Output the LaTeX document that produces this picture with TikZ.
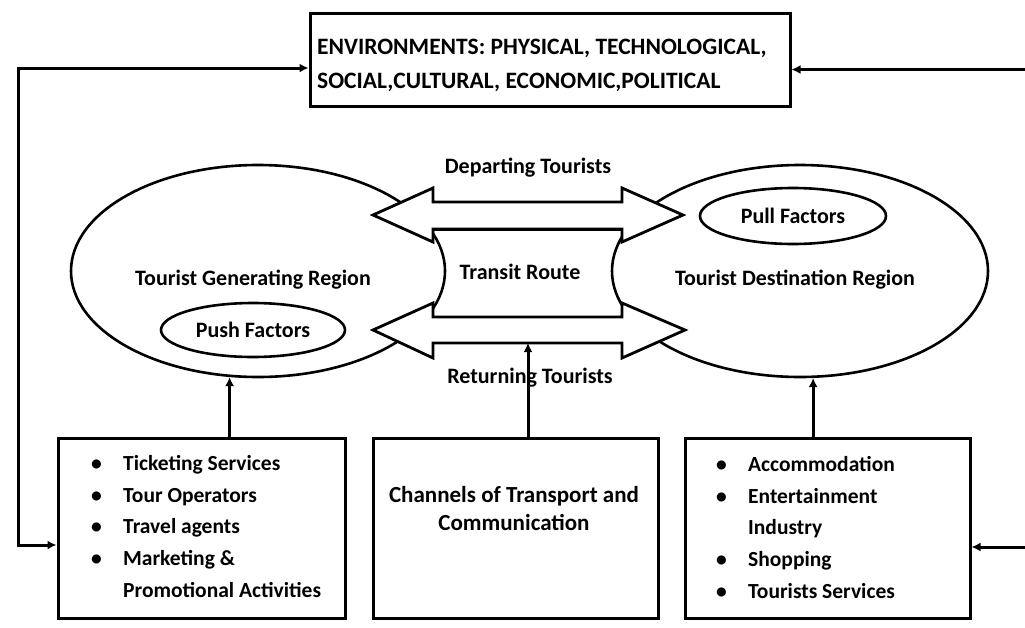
\documentclass[tikz,border=0pt]{standalone}
\usepackage{fontspec}
\setmainfont{Carlito}
\usetikzlibrary{shapes.geometric,arrows.meta}
\newcommand\bul{\makebox[32pt][l]{\textbullet}}
\newcommand\bulind{\hspace*{32pt}}
\begin{document}
\begin{tikzpicture}[x=1pt,y=-1pt,
 txt/.style={font=\bfseries\fontsize{22}{26}\selectfont, inner sep=0pt},
 listtxt/.style={font=\bfseries\fontsize{21.5}{31.75}\selectfont, inner sep=0pt, align=left, anchor=west},
 region/.style={draw, ellipse, line width=2.6pt, inner sep=0pt},
 factor/.style={draw, ellipse, line width=2.6pt, inner sep=0pt, font=\bfseries\fontsize{22}{26}\selectfont},
 box/.style={draw, line width=3pt, inner sep=0pt},
 conn/.style={line width=3pt, -{Latex[length=9pt,width=9pt]}},
 both/.style={line width=3pt, {Latex[length=9pt,width=9pt]}-{Latex[length=9pt,width=9pt]}},
 flow/.style={draw, fill=white, line width=2.8pt, line join=miter}
]
\useasboundingbox (0,0) rectangle (1025,627);
\clip (0,0) rectangle (1025,627);
\fill[white] (0,0) rectangle (1025,627);

% transit route box (top and bottom edges)
\draw[line width=2.8pt] (430,230) -- (627,230);
\draw[line width=2.8pt] (427,317) -- (631,317);

% regions
\node[region, minimum width=374pt, minimum height=212pt] (gen) at (258,271) {};
\node[region, minimum width=376pt, minimum height=212pt] (dest) at (800,271) {};
\node[txt] (genlbl) at (253,280) {Tourist Generating Region};
\node[txt] (destlbl) at (795,280) {Tourist Destination Region};
\node[factor, minimum width=184pt, minimum height=54pt] (push) at (253,330) {Push Factors};
\node[factor, minimum width=186pt, minimum height=56pt] (pull) at (793,216) {Pull Factors};

% flows
\draw[flow] (373,215) -- (433,188) -- (433,202) -- (622,202) -- (622,188) -- (683,215)
  -- (622,242) -- (622,229) -- (433,229) -- (433,242) -- cycle;
\draw[flow] (373,330) -- (433,303) -- (433,317) -- (622,317) -- (622,303) -- (685,330)
  -- (622,358) -- (622,343) -- (433,343) -- (433,358) -- cycle;
\coordinate (retshaft) at (528,343);

\node[txt] (dep) at (528,168) {Departing Tourists};
\node[txt] (ret) at (530,378) {Returning Tourists};
\node[txt] (transit) at (520,272) {Transit Route};

% environment box
\node[box, minimum width=480pt, minimum height=93pt] (env) at (550,59.5) {};
\node[txt, align=left, anchor=west, font=\bfseries\fontsize{23.5}{34}\selectfont] (envtxt) at (317,65)
  {ENVIRONMENTS: PHYSICAL, TECHNOLOGICAL,\\SOCIAL,CULTURAL, ECONOMIC,POLITICAL};

% bottom boxes
\node[box, minimum width=287pt, minimum height=180pt] (lbox) at (201.5,528) {};
\node[listtxt] (ltxt) at (91,526.5) {\bul Ticketing Services\\\bul Tour Operators\\\bul Travel agents\\\bul Marketing \&\\\bulind Promotional Activities};
\node[box, minimum width=285pt, minimum height=180pt] (mbox) at (515.5,528) {};
\node[txt, align=center, font=\bfseries\fontsize{23}{28}\selectfont] (mtxt) at (514,509) {Channels of Transport and\\Communication};
\node[box, minimum width=285pt, minimum height=180pt] (rbox) at (827.5,528) {};
\node[listtxt] (rtxt) at (716,527.5) {\bul Accommodation\\\bul Entertainment\\\bulind Industry\\\bul Shopping\\\bul Tourists Services};

% connectors
\draw[conn] (lbox.north -| gen.255) -- (gen.255);
\draw[conn] (rbox.north -| dest.277) -- (dest.277);
\draw[conn] (mbox.north -| retshaft) -- (retshaft);
\draw[both] ([yshift=-8.5pt]env.west) -- ++(-290,0) |- ([yshift=-17pt]lbox.west);
\draw[both] ([yshift=-10pt]env.east) -- ++(245,0) |- ([yshift=-19pt]rbox.east);
\end{tikzpicture}
\end{document}
